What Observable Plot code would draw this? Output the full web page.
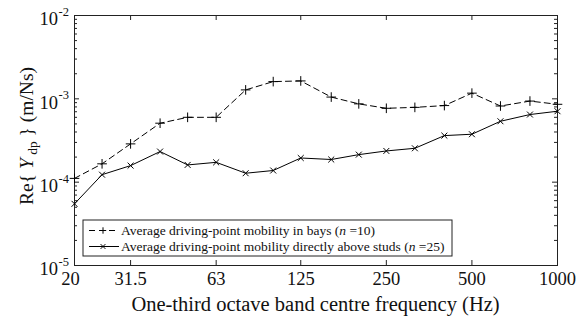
<!DOCTYPE html>
<html>
<head>
<meta charset="utf-8">
<script src="https://cdn.jsdelivr.net/npm/d3@7"></script>
<script src="https://cdn.jsdelivr.net/npm/@observablehq/plot@0.6"></script>
<style>
  html, body { margin: 0; padding: 0; background: #fff; overflow: hidden; }
  #chart svg { display: block; }
  svg text { font-family: "Liberation Serif", "Times New Roman", serif; }
</style>
</head>
<body>
<div id="chart"></div>
<script>
// One-third octave band centre frequencies (Hz)
const freqs = [20, 25, 31.5, 40, 50, 63, 80, 100, 125, 160, 200, 250, 315, 400, 500, 630, 800, 1000];
// Average driving-point mobility in bays (n = 10), m/Ns
const bays = [1.11e-4, 1.66e-4, 2.88e-4, 5.1e-4, 6.0e-4, 6.0e-4, 1.28e-3, 1.61e-3, 1.64e-3, 1.05e-3, 8.7e-4, 7.7e-4, 7.9e-4, 8.3e-4, 1.17e-3, 8.2e-4, 9.4e-4, 8.6e-4];
// Average driving-point mobility directly above studs (n = 25), m/Ns
const studs = [5.5e-5, 1.23e-4, 1.58e-4, 2.33e-4, 1.61e-4, 1.73e-4, 1.28e-4, 1.38e-4, 1.95e-4, 1.87e-4, 2.14e-4, 2.37e-4, 2.55e-4, 3.62e-4, 3.76e-4, 5.38e-4, 6.48e-4, 7.1e-4];

const xTicks = [20, 31.5, 63, 125, 250, 500, 1000];
const xTickLabels = ["20", "31.5", "63", "125", "250", "500", "1000"];
const yDecades = [1e-5, 1e-4, 1e-3, 1e-2];
const yExponents = ["-5", "-4", "-3", "-2"];
const yMinor = [1e-5, 1e-4, 1e-3].flatMap(d => [2, 3, 4, 5, 6, 7, 8, 9].map(k => k * d));

const legendLabels = ["Average driving-point mobility in bays (", "Average driving-point mobility directly above studs ("];
const legendCounts = ["10", "25"];

const W = 578, H = 320;
const mL = 74, mR = 21, mT = 15, mB = 55;
const innerW = W - mL - mR, innerH = H - mT - mB;
const ink = "#222";
const tickFont = 18.5;

const baysData = freqs.map((f, i) => ({f, v: bays[i]}));
const studsData = freqs.map((f, i) => ({f, v: studs[i]}));
const xLabelData = xTicks.map((f, i) => ({f, label: xTickLabels[i]}));

const chart = Plot.plot({
  width: W,
  height: H,
  marginLeft: mL,
  marginRight: mR,
  marginTop: mT,
  marginBottom: mB,
  style: {fontFamily: "Liberation Serif, Times New Roman, serif", fontSize: "16px", background: "#fff", color: ink},
  x: {type: "log", domain: [20, 1000], axis: null},
  y: {type: "log", domain: [1e-5, 1e-2], axis: null},
  marks: [
    // inward tick marks on all four sides
    Plot.ruleX(xTicks, {x: d => d, insetTop: innerH - 5, stroke: ink}),
    Plot.ruleX(xTicks, {x: d => d, insetBottom: innerH - 5, stroke: ink}),
    Plot.ruleY(yDecades, {y: d => d, insetRight: innerW - 5, stroke: ink}),
    Plot.ruleY(yDecades, {y: d => d, insetLeft: innerW - 5, stroke: ink}),
    Plot.ruleY(yMinor, {y: d => d, insetRight: innerW - 3, stroke: ink}),
    Plot.ruleY(yMinor, {y: d => d, insetLeft: innerW - 3, stroke: ink}),
    Plot.frame({stroke: ink}),
    // x tick labels (the first one sits slightly left of the corner)
    Plot.text(xLabelData.slice(0, 1), {x: "f", text: "label", frameAnchor: "bottom", dx: -4, dy: 19.5, fontSize: tickFont, fill: "#111"}),
    Plot.text(xLabelData.slice(1), {x: "f", text: "label", frameAnchor: "bottom", dy: 19, fontSize: tickFont, fill: "#111"}),
    // y tick labels: base and exponent
    Plot.text(yDecades, {y: d => d, text: () => "10", frameAnchor: "left", dx: -16.5, dy: 4, textAnchor: "end", fontSize: tickFont, fill: "#111"}),
    Plot.text(yDecades, {y: d => d, text: (d, i) => yExponents[i], frameAnchor: "left", dx: -16, dy: -3.5, textAnchor: "start", fontSize: 12.5, fill: "#111"}),
    // series
    Plot.line(baysData, {x: "f", y: "v", stroke: "#000", strokeWidth: 1, strokeDasharray: "6,4"}),
    Plot.dot(baysData, {x: "f", y: "v", symbol: "plus", r: 3.2, stroke: "#000", strokeWidth: 1}),
    Plot.line(studsData, {x: "f", y: "v", stroke: "#000", strokeWidth: 1}),
    Plot.dot(studsData, {x: "f", y: "v", symbol: "times", r: 2.8, stroke: "#000", strokeWidth: 1})
  ]
});

document.getElementById("chart").appendChild(chart);

const svg = d3.select(chart);

// x-axis title
svg.append("text")
  .attr("x", mL + innerW / 2)
  .attr("y", 311)
  .attr("text-anchor", "middle")
  .attr("font-size", 20.5)
  .attr("fill", "#111")
  .text("One-third octave band centre frequency (Hz)");

// y-axis title with italic Y and subscript dp
const yt = svg.append("text")
  .attr("transform", `translate(33,${mT + innerH / 2 - 4}) rotate(-90)`)
  .attr("text-anchor", "middle")
  .attr("font-size", 19.5)
  .attr("fill", "#111");
yt.append("tspan").text("Re{ ");
yt.append("tspan").attr("font-style", "italic").text("Y");
yt.append("tspan").attr("font-size", 13.5).attr("dy", 4).text(" dp");
yt.append("tspan").attr("dy", -4).text(" } (m/Ns)");

// legend
const lx = 83, ly = 220, lw = 369, lh = 36;
const lg = svg.append("g");
lg.append("rect").attr("x", lx).attr("y", ly).attr("width", lw).attr("height", lh)
  .attr("fill", "#fff").attr("stroke", ink);
const rows = [ly + 10.5, ly + 26.5];
rows.forEach((ry, i) => {
  lg.append("line").attr("x1", lx + 6).attr("x2", lx + 36).attr("y1", ry).attr("y2", ry)
    .attr("stroke", "#000").attr("stroke-dasharray", i === 0 ? "6,4" : null);
  const cx = lx + 20;
  if (i === 0) {
    lg.append("path").attr("d", `M${cx - 3.2},${ry}H${cx + 3.2}M${cx},${ry - 3.2}V${ry + 3.2}`).attr("stroke", "#000");
  } else {
    const s = 2.4;
    lg.append("path").attr("d", `M${cx - s},${ry - s}L${cx + s},${ry + s}M${cx - s},${ry + s}L${cx + s},${ry - s}`).attr("stroke", "#000");
  }
  const t = lg.append("text").attr("x", lx + 38).attr("y", ry + 4.5)
    .attr("text-anchor", "start").attr("font-size", 13.5).attr("fill", "#111");
  t.append("tspan").text(legendLabels[i]);
  t.append("tspan").attr("font-style", "italic").text("n");
  t.append("tspan").text(" =" + legendCounts[i] + ")");
});
</script>
</body>
</html>
